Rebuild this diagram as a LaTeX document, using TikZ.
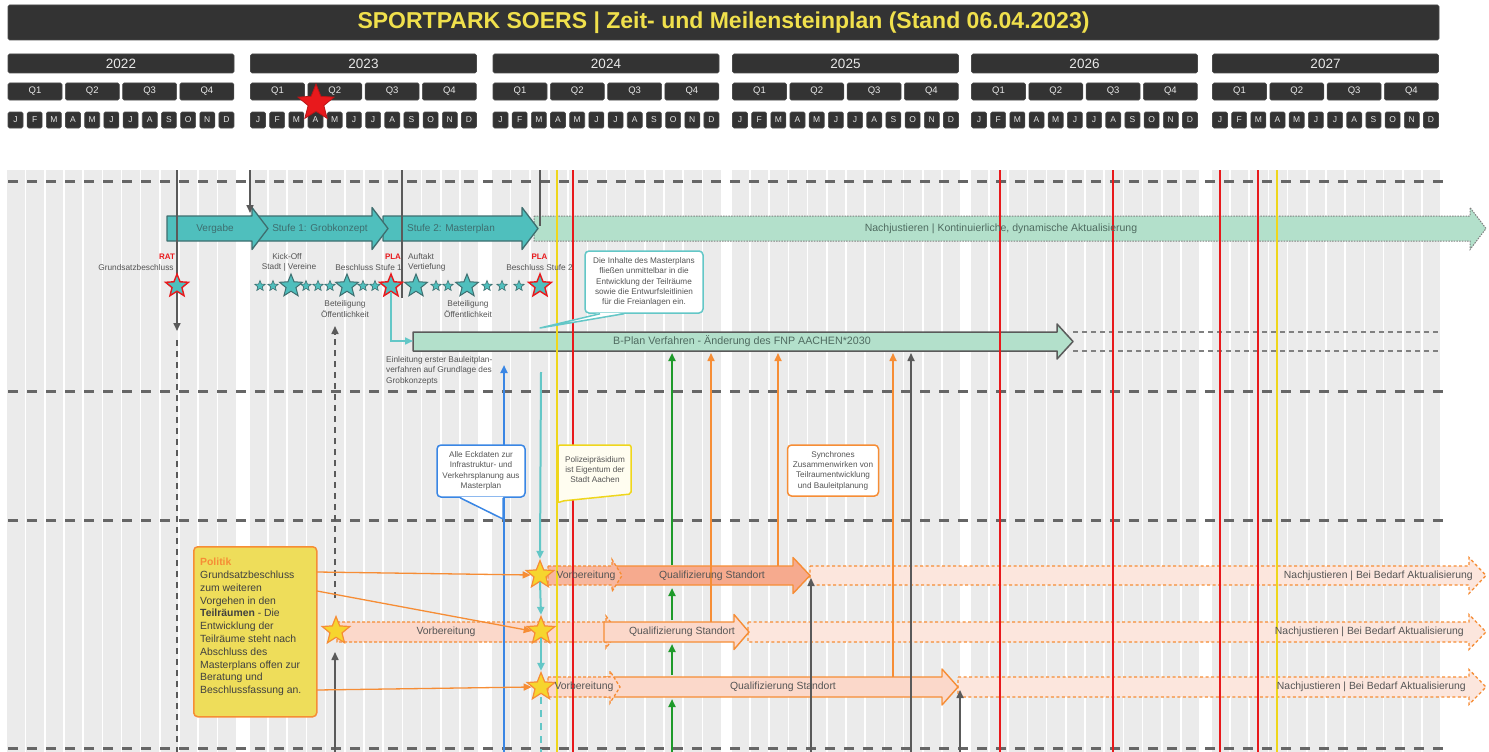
\documentclass[tikz,border=0pt]{standalone}
\usepackage{fontspec}
\setmainfont{Liberation Sans}
\usetikzlibrary{shapes.geometric,arrows.meta}
\definecolor{hdr}{HTML}{333333}
\definecolor{hdrline}{HTML}{4A4A4A}
\definecolor{hdrtext}{HTML}{E8E8E8}
\definecolor{titletext}{HTML}{F0E04C}
\definecolor{stripecol}{HTML}{EBEBEB}
\definecolor{sepgray}{HTML}{666666}
\definecolor{lngray}{HTML}{5A5A5A}
\definecolor{vred}{HTML}{E8191C}
\definecolor{vyel}{HTML}{EFD61C}
\definecolor{tealA}{HTML}{4FBFBD}
\definecolor{tealD}{HTML}{3E6E6F}
\definecolor{tealL}{HTML}{63C7C7}
\definecolor{mint}{HTML}{B3E0CB}
\definecolor{minttext}{HTML}{4F6B60}
\definecolor{salmon}{HTML}{F6AA8E}
\definecolor{salmonL}{HTML}{FBD8CA}
\definecolor{bandfill}{HTML}{FCE6DD}
\definecolor{orangeA}{HTML}{F68D35}
\definecolor{ystar}{HTML}{F6D52E}
\definecolor{politikfill}{HTML}{EEDD5A}
\definecolor{blueA}{HTML}{3A86E4}
\definecolor{greenA}{HTML}{1E9A2A}
\definecolor{txtgray}{HTML}{555555}
\definecolor{ylwcall}{HTML}{FFFDF0}
\tikzset{
  hdrbox/.style={fill=hdr,draw=hdrline,line width=0.6pt,rounded corners=1.5pt,inner sep=0pt,text=hdrtext},
  sepline/.style={draw=sepgray,line width=3pt,dash pattern=on 10pt off 9pt},
  vredln/.style={draw=vred,line width=2pt},
  vyelln/.style={draw=vyel,line width=2pt},
  grayln/.style={draw=lngray,line width=1.6pt},
  graydash/.style={draw=lngray,line width=1.6pt,dash pattern=on 6pt off 5pt},
  tipA/.style={-{Triangle[length=8pt,width=7pt]}},
  lbl/.style={text=txtgray,font=\fontsize{8.3}{10}\selectfont,inner sep=0pt},
  redlbl/.style={text=vred,font=\bfseries\fontsize{8}{10}\selectfont,inner sep=0pt},
  arrtxt/.style={text=tealD,font=\fontsize{10}{12}\selectfont,inner sep=0pt},
  minttxt/.style={text=minttext,font=\fontsize{10.5}{12}\selectfont,inner sep=0pt},
  rowtxt/.style={text=txtgray,font=\fontsize{10.4}{12}\selectfont,inner sep=0pt},
  tealarr/.style={fill=tealA,draw=tealD,line width=1.3pt,line join=round},
  mintarr/.style={fill=mint,draw=gray,line width=1pt,dash pattern=on 1.5pt off 1.2pt},
  bplanarr/.style={fill=mint,draw=lngray,line width=1.5pt,line join=round},
  qualA/.style={fill=salmon,draw=orangeA,line width=1.4pt,line join=round},
  qualB/.style={fill=salmonL,draw=orangeA,line width=1.4pt,line join=round},
  vorbA/.style={fill=salmon!85!white,draw=orangeA,line width=1.3pt,dash pattern=on 3pt off 2pt},
  vorbB/.style={fill=salmonL,draw=orangeA,line width=1.3pt,dash pattern=on 3pt off 2pt},
  bandst/.style={fill=bandfill,draw=orangeA,line width=1.3pt,dash pattern=on 3pt off 2.5pt},
  bigstar/.style={star,star points=5,star point ratio=2.3,minimum size=24pt,inner sep=0pt,fill=tealA,draw=tealD,line width=1pt},
  smstar/.style={bigstar,minimum size=11pt,line width=0.6pt},
  redstar/.style={bigstar,draw=vred,line width=1.4pt},
  ystarst/.style={star,star points=5,star point ratio=2.3,minimum size=29pt,inner sep=0pt,fill=ystar,draw=orangeA,line width=1.2pt},
  callbox/.style={fill=white,line width=1.5pt,rounded corners=4pt,inner sep=0pt,align=center,text=txtgray,font=\fontsize{8.2}{10.3}\selectfont},
  oarrow/.style={draw=orangeA,line width=1.3pt,-{Triangle[length=8pt,width=7pt]}},
}
\newcommand{\harr}[7]{\path[#1] (#2,{#4-#5}) -- ({#3-#6},{#4-#5}) -- ({#3-#6},{#4-#7}) -- (#3,#4) -- ({#3-#6},{#4+#7}) -- ({#3-#6},{#4+#5}) -- (#2,{#4+#5}) -- cycle;}
\begin{document}
\begin{tikzpicture}[x=1pt,y=-1pt]
\useasboundingbox[fill=white] (0,0) rectangle (1489,752);
% stripes
\foreach \X in {8,250.5,493,732.5,971.5,1212.5}{
  \foreach \k in {0,...,11}{
    \fill[stripecol] ({\X+19.18*\k-0.8},170) rectangle ++(17.6,582);
  }
}
% header
\node[hdrbox,minimum width=1431pt,minimum height=35pt,text=titletext,font=\bfseries\fontsize{23}{26}\selectfont] (title) at (723.5,22.5) {SPORTPARK SOERS | Zeit- und Meilensteinplan (Stand 06.04.2023)};
\foreach \X/\yr [count=\i] in {8/2022,250.5/2023,493/2024,732.5/2025,971.5/2026,1212.5/2027}{
  \node[hdrbox,minimum width=226pt,minimum height=19pt,font=\fontsize{13.5}{14}\selectfont] (y\i) at ({\X+113},63.5) {\yr};
  \foreach \q [count=\j] in {0,...,3}{
    \node[hdrbox,minimum width=54pt,minimum height=17pt,font=\fontsize{9.5}{10}\selectfont] (q\i-\j) at ({\X+57.3*\q+27},91.5) {Q\j};
  }
  \foreach \ml [count=\k from 0] in {J,F,M,A,M,J,J,A,S,O,N,D}{
    \node[hdrbox,minimum width=15pt,minimum height=16pt,font=\fontsize{8.5}{9}\selectfont] (m\i-\k) at ({\X+19.18*\k+7.5},120) {\ml};
  }
}
% separators
\foreach \yy in {181,391,520,748}{
  \draw[sepline] (8,\yy) -- (1450,\yy);
}
% top arrows
\harr{mintarr}{534}{1486}{228.5}{12.5}{16}{21}
\harr{tealarr}{383}{538}{228.5}{12.5}{16}{21}
\harr{tealarr}{251}{388}{228.5}{12.5}{16}{21}
\harr{tealarr}{167}{268}{228.5}{12.5}{16}{21}
% B-Plan
\draw[draw=gray,line width=1.2pt,dash pattern=on 5pt off 4pt] (1073,332) -- (1440,332);
\draw[draw=gray,line width=1.2pt,dash pattern=on 5pt off 4pt] (1073,351) -- (1440,351);
\harr{bplanarr}{413}{1073}{341.5}{9.5}{16}{17.5}
% row 1
\harr{bandst}{810}{1486}{575.5}{9.5}{17}{18}
\harr{qualA}{612}{810}{575.5}{9.5}{17}{18}
\harr{vorbA}{548}{622}{575.5}{9.5}{10}{16}
% row 2
\harr{bandst}{748}{1486}{632}{10}{17}{17.5}
\harr{vorbB}{337}{618}{632}{10}{12}{16}
\harr{qualB}{604}{749}{632}{10}{15}{17.5}
% row 3
\harr{bandst}{958}{1486}{687}{10}{17}{17.5}
\harr{qualB}{604}{958}{687}{10}{16}{18}
\harr{vorbB}{548}{620}{687}{10}{10}{16}
% vertical marker lines
\foreach \xx in {573,1000,1113,1220,1258}{\draw[vredln] (\xx,170) -- (\xx,752);}
\foreach \xx in {557,1277}{\draw[vyelln] (\xx,170) -- (\xx,752);}
% dark lines top
\coordinate (t177) at (177,170); \coordinate (b177) at (177,331);
\draw[grayln,tipA] (t177) -- (b177);
\coordinate (d177a) at (177,340); \coordinate (d177b) at (177,752);
\draw[graydash] (d177a) -- (d177b);
\coordinate (t250) at (250,170); \coordinate (b250) at (250,213);
\draw[grayln,tipA] (t250) -- (b250);
\coordinate (t402) at (402,170); \coordinate (b402) at (402,298);
\draw[grayln] (t402) -- (b402);
\coordinate (t540) at (540,170); \coordinate (b540) at (540,226);
\draw[grayln] (t540) -- (b540);
% Beteiligung arrow
\coordinate (bet1) at (335,598); \coordinate (bet2) at (335,326);
\draw[graydash,tipA] (bet1) -- (bet2);
% stars row
\node[redstar] (sRat) at (177,286) {};
\foreach \sx [count=\n] in {260,273,306,318,330,363,375,436,448,487,502,519}{
  \node[smstar] (ss\n) at (\sx,286) {};
}
\node[bigstar] (sKick) at (291,286) {};
\node[bigstar] (sBet1) at (347,286) {};
\node[redstar] (sPla1) at (391,286) {};
\node[bigstar] (sAuf) at (416,286) {};
\node[bigstar] (sBet2) at (467,286) {};
\node[redstar] (sPla2) at (540,286) {};
% teal connector PLA1 -> B-Plan
\coordinate (bplanW) at (413,341);
\draw[draw=tealL,line width=1.6pt,-{Triangle[length=8pt,width=7pt]}] (sPla1.south) |- (bplanW);
% row stars
\node[ystarst] (r1) at (540,575) {};
\node[ystarst] (r2) at (541,631) {};
\node[ystarst] (r3) at (541,687) {};
\node[ystarst] (r2l) at (336,631) {};
% teal vertical
\coordinate (tealTop) at (541,372);
\draw[draw=tealL,line width=2pt,tipA] (tealTop) -- (r1.north);
\draw[draw=tealL,line width=2pt,tipA] (r1.south) -- (r2.north);
\draw[draw=tealL,line width=2pt,tipA] (r2.south) -- (r3.north);
\coordinate (tealBot) at (541,752);
\draw[draw=tealL,line width=2pt,dash pattern=on 7pt off 6pt] ([yshift=-3pt]r3.south) -- (tealBot);
% blue
\coordinate (blueB) at (504,752); \coordinate (blueT) at (504,365);
\draw[draw=blueA,line width=2pt,tipA] (blueB) -- (blueT);
% green
\coordinate (g0) at (672,752); \coordinate (g1) at (672,699);
\coordinate (g2) at (672,675); \coordinate (g3) at (672,644);
\coordinate (g4) at (672,620); \coordinate (g5) at (672,588);
\coordinate (g6) at (672,565); \coordinate (g7) at (672,353);
\draw[draw=greenA,line width=2pt,tipA] (g0) -- (g1);
\draw[draw=greenA,line width=2pt,tipA] (g2) -- (g3);
\draw[draw=greenA,line width=2pt,tipA] (g4) -- (g5);
\draw[draw=greenA,line width=2pt,tipA] (g6) -- (g7);
% orange up
\coordinate (o1a) at (711,622); \coordinate (o1b) at (711,353);
\coordinate (o2a) at (778,566); \coordinate (o2b) at (778,353);
\coordinate (o3a) at (893,677); \coordinate (o3b) at (893,353);
\draw[draw=orangeA,line width=1.6pt,tipA] (o1a) -- (o1b);
\draw[draw=orangeA,line width=1.6pt,tipA] (o2a) -- (o2b);
\draw[draw=orangeA,line width=1.6pt,tipA] (o3a) -- (o3b);
% gray up
\coordinate (k1a) at (911,752); \coordinate (k1b) at (911,353);
\coordinate (k2a) at (811,752); \coordinate (k2b) at (811,578);
\coordinate (k3a) at (960,752); \coordinate (k3b) at (960,690);
\coordinate (k4a) at (335,752); \coordinate (k4b) at (335,652);
\draw[grayln,tipA] (k1a) -- (k1b);
\draw[grayln,tipA] (k2a) -- (k2b);
\draw[grayln,tipA] (k3a) -- (k3b);
\draw[grayln,tipA] (k4a) -- (k4b);
% arrow texts
\node[arrtxt] (tVergabe) at (215,228.5) {Vergabe};
\node[arrtxt] (tStufe1) at (320,228.5) {Stufe 1: Grobkonzept};
\node[arrtxt] (tStufe2) at (451,228.5) {Stufe 2: Masterplan};
\node[minttxt] (tNach) at (1001,228.5) {Nachjustieren | Kontinuierliche, dynamische Aktualisierung};
\node[minttxt,font=\fontsize{10.7}{12}\selectfont] (tBplan) at (742,341.5) {B-Plan Verfahren - Änderung des FNP AACHEN*2030};
% labels
\node[redlbl] (lRat) at (167,257) {RAT};
\node[lbl] (lGrund) at (136,267.5) {Grundsatzbeschluss};
\node[lbl] (lKick) at (287,257) {Kick-Off};
\node[lbl] (lStadt) at (289,267.5) {Stadt | Vereine};
\node[redlbl] (lPla1) at (393,257) {PLA};
\node[lbl,anchor=east] (lBes1) at (402,267.5) {Beschluss Stufe 1};
\node[lbl,anchor=west] (lAuf) at (408,257) {Auftakt};
\node[lbl,anchor=west] (lVert) at (408,267.5) {Vertiefung};
\node[redlbl] (lPla2) at (539.5,257) {PLA};
\node[lbl] (lBes2) at (539.5,267.5) {Beschluss Stufe 2};
\node[lbl] (lBet1) at (345,304.5) {Beteiligung};
\node[lbl] (lOef1) at (345,314.5) {Öffentlichkeit};
\node[lbl] (lBet2) at (468,304.5) {Beteiligung};
\node[lbl] (lOef2) at (468,314.5) {Öffentlichkeit};
\node[lbl,align=left,anchor=north west,font=\fontsize{8.3}{10.5}\selectfont] (lEinl) at (386,356) {Einleitung erster Bauleitplan-\\verfahren auf Grundlage des\\Grobkonzepts};
% row texts
\node[rowtxt] (r1v) at (586,575.5) {Vorbereitung};
\node[rowtxt] (r1q) at (712,575.5) {Qualifizierung Standort};
\node[rowtxt,anchor=east] (r1n) at (1473,575.5) {Nachjustieren | Bei Bedarf Aktualisierung};
\node[rowtxt] (r2v) at (446,632) {Vorbereitung};
\node[rowtxt] (r2q) at (682,632) {Qualifizierung Standort};
\node[rowtxt,anchor=east] (r2n) at (1464,632) {Nachjustieren | Bei Bedarf Aktualisierung};
\node[rowtxt] (r3v) at (584,687) {Vorbereitung};
\node[rowtxt] (r3q) at (783,687) {Qualifizierung Standort};
\node[rowtxt,anchor=east] (r3n) at (1466,687) {Nachjustieren | Bei Bedarf Aktualisierung};
% Politik box
\node[fill=politikfill,draw=orangeA,line width=1.5pt,rounded corners=4pt,minimum width=123pt,minimum height=170pt,anchor=north west,inner sep=0pt] (politik) at (193,546) {};
\node[anchor=north west,align=left,inner sep=0pt,text=black!75,font=\fontsize{10.4}{12.8}\selectfont] (politikTxt) at (200,558) {{\color{orangeA}\bfseries Politik}\\Grundsatzbeschluss\\zum weiteren\\Vorgehen in den\\\textbf{Teilräumen} - Die\\Entwicklung der\\Teilräume steht nach\\Abschluss des\\Masterplans offen zur\\Beratung und\\Beschlussfassung an.};
\coordinate (pA) at (317,572); \coordinate (pB) at (317,591); \coordinate (pC) at (317,690);
\draw[oarrow] (pA) -- (r1.west);
\draw[oarrow] (pB) -- (r2.west);
\draw[oarrow] (pC) -- (r3.west);
% teal callout
\node[callbox,draw=tealL,minimum width=118pt,minimum height=62pt] (cTeal) at (644,282) {Die Inhalte des Masterplans\\fließen unmittelbar in die\\Entwicklung der Teilräume\\sowie die Entwurfsleitlinien\\für die Freianlagen ein.};
\coordinate (cTealTip) at (540,328);
\fill[white] ([xshift=-44pt,yshift=1pt]cTeal.south) -- (cTealTip) -- ([xshift=-20pt,yshift=1pt]cTeal.south) -- cycle;
\draw[draw=tealL,line width=1.5pt,line join=round] ([xshift=-44pt]cTeal.south) -- (cTealTip) -- ([xshift=-20pt]cTeal.south);
% blue callout
\node[callbox,draw=blueA,minimum width=88pt,minimum height=52pt] (cBlue) at (481,471) {Alle Eckdaten zur\\Infrastruktur- und\\Verkehrsplanung aus\\Masterplan};
\coordinate (cBlueTip) at (503,519);
\fill[white] ([xshift=-21pt,yshift=1pt]cBlue.south) -- (cBlueTip) -- ([xshift=22pt,yshift=1pt]cBlue.south) -- cycle;
\draw[draw=blueA,line width=1.5pt,line join=round] ([xshift=-21pt]cBlue.south) -- (cBlueTip) -- ([xshift=22pt]cBlue.south);
% yellow callout
\draw[fill=ylwcall,draw=vyel,line width=1.5pt,rounded corners=2pt] (558,445) -- (631,445) -- (631,494) -- (562,501) -- (558,503) -- cycle;
\node[align=center,inner sep=0pt,text=txtgray,font=\fontsize{8.2}{10.3}\selectfont] (cYel) at (595,469.5) {Polizeipräsidium\\ist Eigentum der\\Stadt Aachen};
% orange callout
\node[callbox,draw=orangeA,minimum width=91pt,minimum height=51pt] (cOra) at (833,470.5) {Synchrones\\Zusammenwirken von\\Teilraumentwicklung\\und Bauleitplanung};
% header red star
\node[star,star points=5,star point ratio=2.3,minimum size=38pt,inner sep=0pt,fill=vred,draw=vred!80!black,line width=0.8pt] (nowStar) at (316,103) {};
\end{tikzpicture}
\end{document}
